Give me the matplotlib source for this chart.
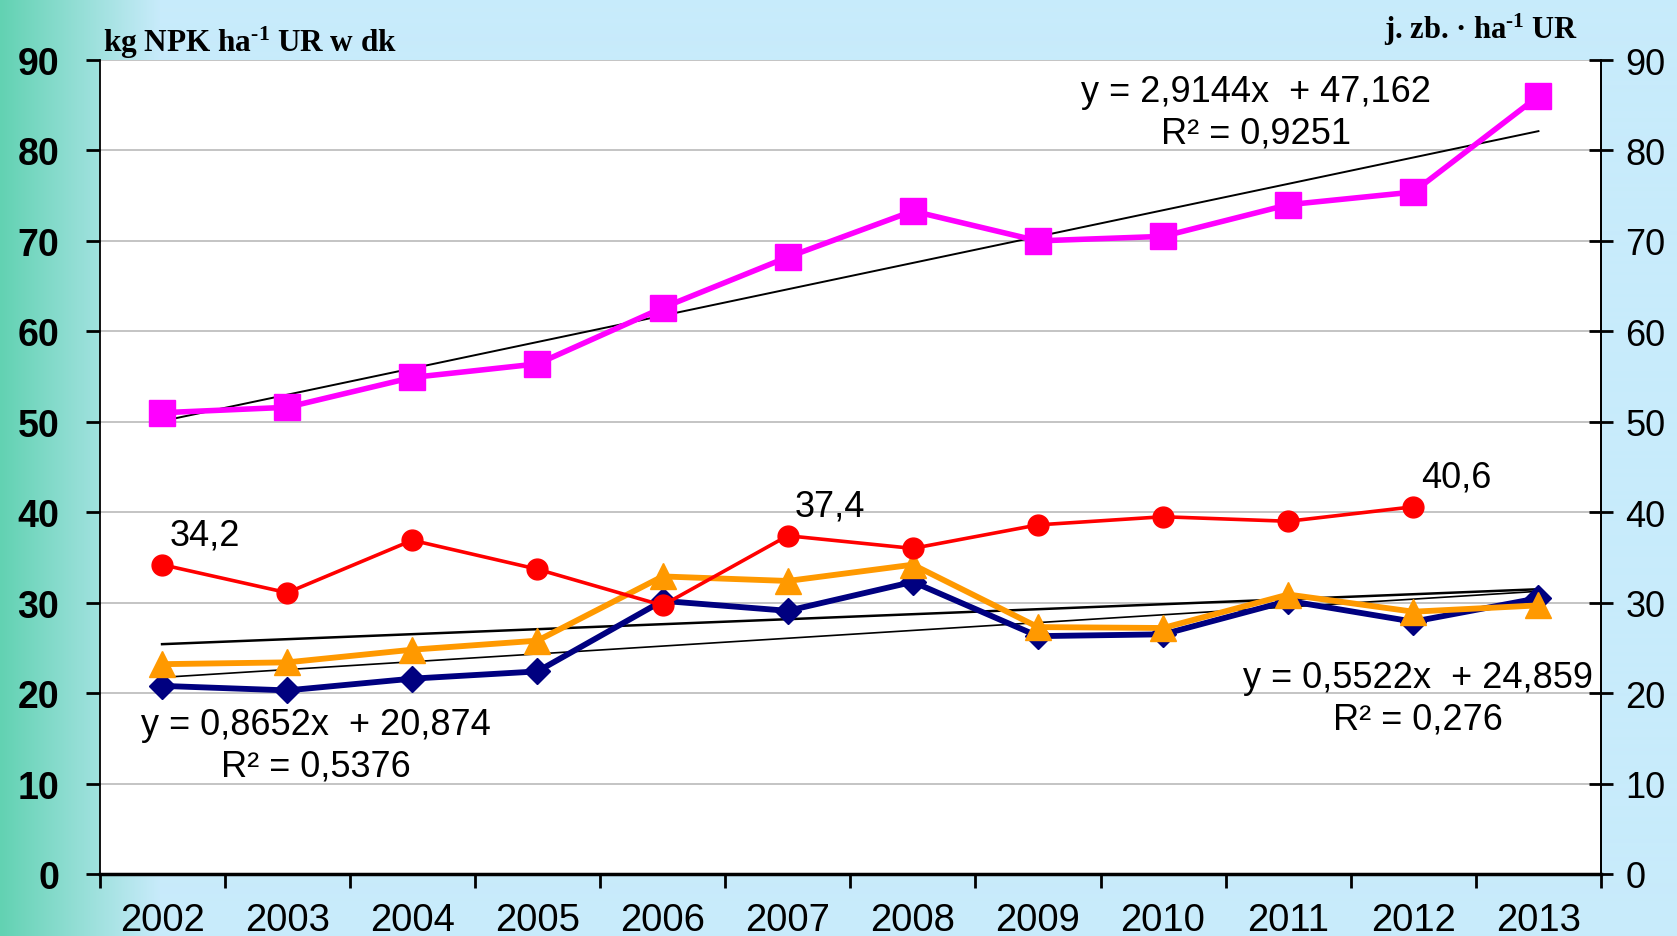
import numpy as np
import matplotlib
matplotlib.use("Agg")
import matplotlib.pyplot as plt
from matplotlib.colors import LinearSegmentedColormap
from matplotlib.ticker import FixedLocator, NullFormatter

plt.rcParams['mathtext.fontset'] = 'custom'
plt.rcParams['mathtext.rm'] = 'Liberation Serif:bold'
plt.rcParams['mathtext.bf'] = 'Liberation Serif:bold'
plt.rcParams['mathtext.it'] = 'Liberation Serif:bold'

years = ['2002', '2003', '2004', '2005', '2006', '2007', '2008', '2009', '2010', '2011', '2012', '2013']
magenta_vals = [51.0, 51.6, 54.9, 56.4, 62.6, 68.2, 73.3, 70.0, 70.5, 74.0, 75.4, 86.0]
red_vals = [34.2, 31.1, 36.9, 33.7, 29.7, 37.4, 36.0, 38.6, 39.5, 39.0, 40.6, np.nan]
navy_vals = [20.8, 20.3, 21.6, 22.4, 30.2, 29.1, 32.3, 26.3, 26.5, 30.2, 27.9, 30.5]
orange_vals = [23.2, 23.4, 24.8, 25.8, 32.9, 32.4, 34.2, 27.3, 27.2, 30.9, 29.0, 29.7]

# trendline coefficients (slope, intercept), x = 1..12
trend_magenta = (2.9144, 47.162)
trend_navy = (0.8652, 20.874)
trend_orange = (0.5522, 24.859)

red_labels = {0: '34,2', 5: '37,4', 10: '40,6'}

W, H = 1677, 937
fig = plt.figure(figsize=(W / 100, H / 100), dpi=100)

# background gradient
bg = fig.add_axes([0, 0, 1, 1], zorder=-10)
bg.axis('off')
cmap = LinearSegmentedColormap.from_list('bg', ['#62D2B2', '#C8EBFB'])
grad = np.clip(np.linspace(0, W, W) / 160.0, 0, 1)
bg.imshow(grad[np.newaxis, :], aspect='auto', cmap=cmap, extent=[0, 1, 0, 1])
bg.set_xlim(0, 1)
bg.set_ylim(0, 1)

ax = fig.add_axes([99.5 / W, 1 - 875 / H, (1601 - 99.5) / W, (875 - 61) / H])
ax.set_facecolor('white')
x = np.arange(len(years))
ax.set_xlim(-0.5, len(years) - 0.5)
ax.set_ylim(0, 90)

ax.set_yticks(np.arange(0, 91, 10))
ax.yaxis.grid(True, color='#BFBFBF', linewidth=1.3)
ax.set_axisbelow(True)

# trendlines
xt = np.array([x[0], x[-1]], dtype=float)
for (m, b), lw in [(trend_magenta, 1.4), (trend_navy, 1.2), (trend_orange, 1.8)]:
    ax.plot(xt, m * (xt + 1) + b, color='black', linewidth=lw, zorder=3)

ax.plot(x, navy_vals, color='#000080', linewidth=4.2, marker='D', markersize=13, zorder=4)
ax.plot(x, orange_vals, color='#FF9900', linewidth=4.2, marker='^', markersize=19, zorder=5)
ax.plot(x, red_vals, color='#FF0000', linewidth=2.6, marker='o', markersize=15, zorder=6)
ax.plot(x, magenta_vals, color='#FF00FF', linewidth=4, marker='s', markersize=19, zorder=7)

tfont = dict(family='Liberation Sans', fontsize=26)
for i, lab in red_labels.items():
    ax.text(x[i] + 0.34, red_vals[i] + 3.3, lab, ha='center', va='center', **tfont)

ax.text(8.74, 84.2, 'y = 2,9144x  + 47,162\nR² = 0,9251', ha='center', va='center',
        linespacing=1.25, **tfont)
ax.text(1.23, 14.2, 'y = 0,8652x  + 20,874\nR² = 0,5376', ha='center', va='center',
        linespacing=1.25, **tfont)
ax.text(10.04, 19.4, 'y = 0,5522x  + 24,859\nR² = 0,276', ha='center', va='center',
        linespacing=1.25, **tfont)

# axes styling
ax.spines['top'].set_visible(False)
ax.spines['left'].set_linewidth(1.3)
ax.spines['right'].set_linewidth(1.3)
ax.spines['bottom'].set_linewidth(2.5)

ax.set_xticks(x)
ax.set_xticklabels(years, family='Liberation Sans', fontsize=27.5)
ax.tick_params(axis='x', which='major', length=0, pad=20)
ax.xaxis.set_minor_locator(FixedLocator(np.arange(-0.5, len(years) + 0.5, 1)))
ax.xaxis.set_minor_formatter(NullFormatter())
ax.tick_params(axis='x', which='minor', length=10, width=2, direction='out')

ax.tick_params(axis='y', which='major', length=10, width=2, direction='out', pad=19)
for lab in ax.get_yticklabels():
    lab.set_family('Liberation Sans')
    lab.set_fontsize(27)
    lab.set_fontweight('bold')

ax2 = ax.twinx()
ax2.set_ylim(0, 90)
ax2.set_yticks(np.arange(0, 91, 10))
ax2.tick_params(axis='y', length=17, width=2, direction='inout', pad=9)
for lab in ax2.get_yticklabels():
    lab.set_family('Liberation Sans')
    lab.set_fontsize(26)
for s in ['top', 'left', 'bottom']:
    ax2.spines[s].set_visible(False)
ax2.spines['right'].set_linewidth(1.3)

fig.text(103 / W, 1 - 43 / H, r'kg NPK ha$^{\text{-}1}$ UR w dk', family='Liberation Serif',
         fontweight='bold', fontsize=22.5, ha='left', va='center')
fig.text(1578 / W, 1 - 30 / H, r'j. zb. · ha$^{\text{-}1}$ UR', family='Liberation Serif',
         fontweight='bold', fontsize=22, ha='right', va='center')

fig.savefig('out.png', dpi=100)
